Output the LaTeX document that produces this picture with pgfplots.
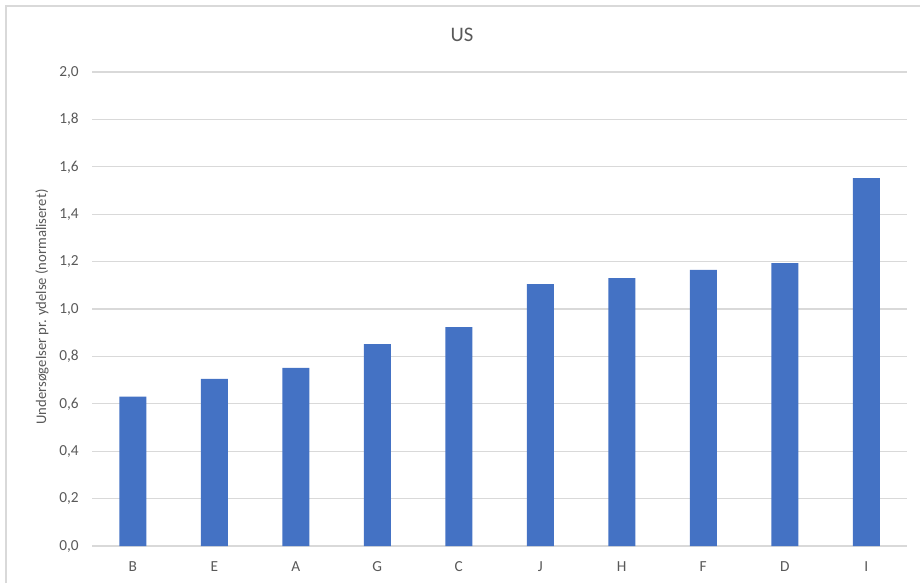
\documentclass[border=0pt]{standalone}
\usepackage{pgfplots}
\pgfplotsset{compat=1.18}
\usepackage{fontspec}
\setmainfont{Carlito}
\definecolor{barblue}{HTML}{4472C4}
\definecolor{gridc}{HTML}{D9D9D9}
\definecolor{txt}{HTML}{595959}
\begin{document}
\begin{tikzpicture}[x=0.75pt,y=0.75pt]
\path[use as bounding box] (0,0) rectangle (920,-583);
\draw[color=gridc, line width=1.1pt] (6,-583) -- (6,-6) -- (920,-6);
\begin{axis}[
  at={(69pt,-409.5pt)}, anchor=south west,
  scale only axis, width=611.25pt, height=355.5pt,
  xmin=-0.5, xmax=9.5, ymin=0, ymax=2,
  ybar, bar width=20.25pt,
  axis line style={draw=none},
  ymajorgrids, grid style={color=gridc, line width=0.8pt},
  ytick={0,0.2,0.4,0.6,0.8,1.0,1.2,1.4,1.6,1.8,2.0},
  xtick=data,
  xticklabels={B,E,A,G,C,J,H,F,D,I},
  major tick length=0pt,
  tick label style={color=txt, font=\fontsize{11.5}{13}\selectfont},
  /pgf/number format/assume math mode=true,
  /pgf/number format/fixed,
  /pgf/number format/fixed zerofill,
  /pgf/number format/precision=1,
  /pgf/number format/use comma,
  yticklabel style={xshift=-6.5pt},
  xticklabel style={yshift=-8pt},
]
\addplot[fill=barblue, draw=none] coordinates {
  (0,0.630) (1,0.705) (2,0.752) (3,0.852) (4,0.924)
  (5,1.105) (6,1.130) (7,1.165) (8,1.194) (9,1.552)
};
\end{axis}
\node[color=txt, font=\fontsize{15.5}{18}\selectfont] at (462,-35) {US};
\node[color=txt, font=\fontsize{11}{13}\selectfont, rotate=90] at (42,-307) {Undersøgelser pr. ydelse (normaliseret)};
\end{tikzpicture}
\end{document}
